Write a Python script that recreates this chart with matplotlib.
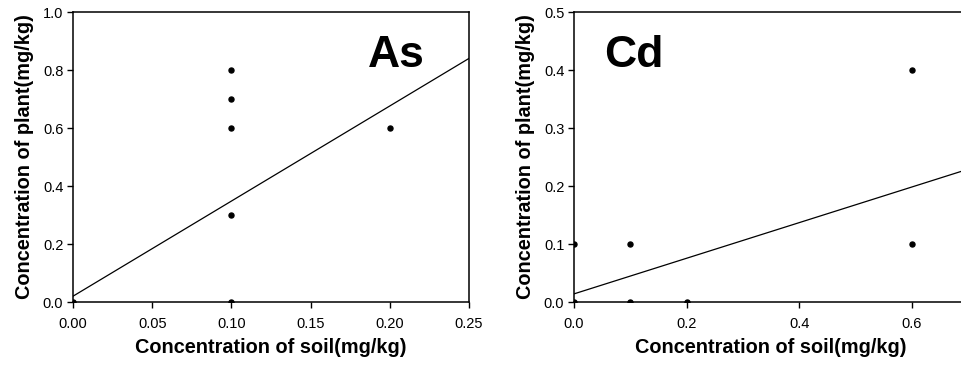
import matplotlib.pyplot as plt
import numpy as np

plt.rcParams['font.family'] = ['Liberation Sans', 'DejaVu Sans']

# As panel data
as_soil = [0.0, 0.1, 0.1, 0.1, 0.1, 0.1, 0.2]
as_plant = [0.0, 0.0, 0.3, 0.6, 0.7, 0.8, 0.6]
as_fit = (0.02, 3.28)   # intercept, slope

# Cd panel data
cd_soil = [0.0, 0.0, 0.1, 0.1, 0.2, 0.6, 0.6]
cd_plant = [0.0, 0.1, 0.1, 0.0, 0.0, 0.4, 0.1]
cd_fit = (0.014, 0.307)

fig = plt.figure(figsize=(9.61, 3.66), dpi=100)
ax1 = fig.add_axes([73/961, 1-302/366, 396/961, 290/366])
ax2 = fig.add_axes([574/961, 1-302/366, 394/961, 290/366])


def panel(ax, x, y, fit, xlim, ylim, xticks, yticks, xfmt, name, name_pos):
    ax.plot(x, y, 'o', color='black', markersize=3.6, zorder=3)
    xx = np.array(xlim)
    ax.plot(xx, fit[0] + fit[1]*xx, color='black', linewidth=0.9)
    ax.set_xlim(xlim)
    ax.set_ylim(ylim)
    ax.set_xticks(xticks)
    ax.set_xticklabels([xfmt % t for t in xticks])
    ax.set_yticks(yticks)
    ax.set_yticklabels(['%.1f' % t for t in yticks])
    ax.tick_params(direction='out', length=4, width=1, labelsize=10.5)
    ax.tick_params(axis='x', pad=7)
    ax.tick_params(axis='y', pad=3)
    for s in ax.spines.values():
        s.set_linewidth(1.1)
    ax.set_xlabel('Concentration of soil(mg/kg)', fontsize=14.3, fontweight='bold', labelpad=5)
    ax.set_ylabel('Concentration of plant(mg/kg)', fontsize=14.3, fontweight='bold', labelpad=6)
    ax.text(name_pos[0], name_pos[1], name, fontsize=32, fontweight='bold')


panel(ax1, as_soil, as_plant, as_fit, (0, 0.25), (0, 1.0),
      [0, 0.05, 0.10, 0.15, 0.20, 0.25], [0, 0.2, 0.4, 0.6, 0.8, 1.0],
      '%.2f', 'As', (0.186, 0.81))
panel(ax2, cd_soil, cd_plant, cd_fit, (0, 0.7), (0, 0.5),
      [0, 0.2, 0.4, 0.6], [0, 0.1, 0.2, 0.3, 0.4, 0.5],
      '%.1f', 'Cd', (0.053, 0.405))

fig.savefig('out.png', dpi=100)
